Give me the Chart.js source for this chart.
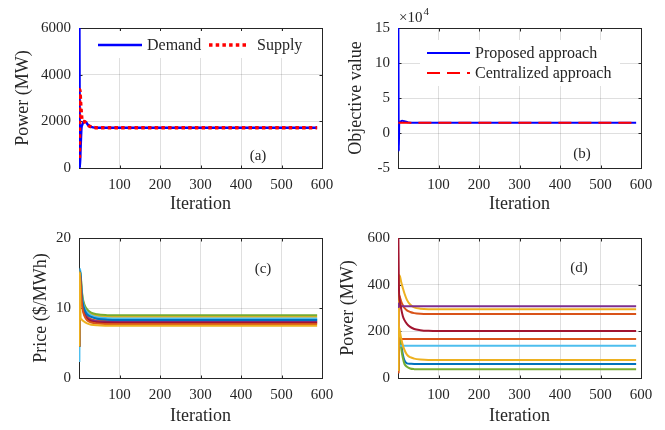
<!DOCTYPE html>
<html>
<head>
<meta charset="utf-8">
<script src="https://cdn.jsdelivr.net/npm/chart.js@4.4.0/dist/chart.umd.min.js"></script>
<style>
body { margin: 0; background: #fff; }
#wrap { position: relative; width: 665px; height: 430px; overflow: hidden; }
canvas { position: absolute; }
</style>
</head>
<body>
<div id="wrap">
<canvas id="chartA" width="345" height="215" style="left:0;top:0;width:345px;height:215px"></canvas>
<canvas id="chartB" width="345" height="215" style="left:320px;top:0;width:345px;height:215px"></canvas>
<canvas id="chartC" width="345" height="215" style="left:0;top:215px;width:345px;height:215px"></canvas>
<canvas id="chartD" width="345" height="215" style="left:320px;top:215px;width:345px;height:215px"></canvas>
</div>
<script>
// (a) demand / supply balance
const iterA = [1, 2, 4, 6, 8, 12, 16, 22, 30, 40, 588];
const demandMW = [6000, 0, 900, 1700, 1850, 1980, 1985, 1850, 1760, 1730, 1727];
const supplyMW = [430, 3350, 2800, 2300, 2000, 1990, 1960, 1840, 1760, 1730, 1727];

// (b) objective value
const iterB = [1, 2, 3, 6, 10, 16, 25, 40, 588];
const proposedObj = [150000, -26000, 14000, 16500, 17500, 16800, 15200, 14500, 14500];
const centralIter = [1, 588];
const centralObj = [14500, 14500];

// (c) prices of each agent
const iterC = [1, 2, 4, 6, 9, 14, 20, 30, 45, 70, 100, 588];
const priceBlue1 = [4.5, 15.3, 14.6, 12.6, 10.9, 9.8, 9.2, 8.8, 8.5, 8.38, 8.35, 8.35];
const priceOrange1 = [4.5, 15.2, 14.4, 12.2, 10.5, 9.4, 8.8, 8.4, 8.2, 8.12, 8.1, 8.1];
const priceYellow1 = [4.5, 15.2, 14.8, 13.0, 11.3, 10.2, 9.6, 9.15, 8.9, 8.78, 8.75, 8.75];
const pricePurple = [4.5, 15.0, 14.2, 12.0, 10.3, 9.2, 8.6, 8.25, 8.08, 8.02, 8.0, 8.0];
const priceGreen = [4.5, 15.1, 14.9, 13.2, 11.5, 10.4, 9.8, 9.35, 9.1, 8.98, 8.95, 8.95];
const priceLightBlue = [2.3, 15.6, 15.0, 12.9, 11.1, 10.0, 9.4, 8.95, 8.68, 8.55, 8.5, 8.5];
const priceDarkRed = [4.5, 15.0, 14.0, 11.8, 10.1, 9.0, 8.45, 8.12, 7.97, 7.92, 7.9, 7.9];
const priceBlue2 = [4.5, 15.3, 14.5, 12.4, 10.8, 9.7, 9.1, 8.72, 8.45, 8.33, 8.3, 8.3];
const priceOrange2 = [4.5, 15.0, 13.8, 11.5, 9.8, 8.8, 8.25, 7.92, 7.77, 7.72, 7.7, 7.7];
const priceYellow2 = [4.5, 15.2, 8.6, 8.4, 8.2, 8.0, 7.8, 7.62, 7.52, 7.47, 7.45, 7.45];

// (d) power of each agent
const iterD = [1, 2, 3, 5, 8, 12, 16, 22, 30, 40, 55, 75, 100, 588];
const powBlue = [30, 150, 160, 155, 141, 100, 75, 63, 61, 60, 60, 60, 60, 60];
const powOrange1 = [20, 300, 355, 345, 328, 312, 300, 290, 283, 278, 275, 274, 274, 274];
const powYellow1 = [30, 400, 440, 435, 410, 385, 362, 335, 315, 303, 297, 295, 295, 295];
const powPurple = [300, 320, 310, 308, 308, 308, 308, 308, 308, 308, 308, 308, 308, 308];
const powGreen = [30, 190, 205, 175, 127, 85, 60, 48, 41, 38, 37, 37, 37, 37];
const powLightBlue = [140, 139, 138, 138, 138, 138, 138, 138, 138, 138, 138, 138, 138, 138];
const powDarkRed = [600, 420, 350, 325, 295, 265, 248, 232, 219, 210, 205, 202, 201, 201];
const powOrange2 = [20, 170, 167, 167, 167, 167, 167, 167, 167, 167, 167, 167, 167, 167];
const powYellow2 = [30, 200, 215, 195, 168, 140, 120, 100, 89, 83, 79, 77, 77, 77];

// matlab colour order
const C = {
    blue: '#0072BD', orange: '#D95319', yellow: '#EDB120', purple: '#7E2F8E',
    green: '#77AC30', lightBlue: '#4DBEEE', darkRed: '#A2142F'
};
const INK = '#262626';

Chart.defaults.font.family = '"Liberation Serif", "Times New Roman", serif';
Chart.defaults.color = INK;

function pts(xs, ys) {
    return xs.map((x, i) => ({ x: x, y: ys[i] }));
}

// later series go on top, like matlab
let drawOrder = 0;
function line(label, xs, ys, color, extra) {
    drawOrder -= 1;
    return Object.assign({
        label: label, data: pts(xs, ys), borderColor: color, backgroundColor: color,
        borderWidth: 2, pointRadius: 0, fill: false, order: drawOrder
    }, extra || {});
}

// frame + inside ticks under the data, legend and tag over it
const deco = {
    id: 'deco',
    beforeDatasetsDraw(chart) {
        const { ctx, chartArea: a, scales } = chart;
        ctx.save();
        ctx.strokeStyle = INK;
        ctx.lineWidth = 1;
        const L = Math.round(a.left) + 0.5, R = Math.round(a.right) + 0.5;
        const T = Math.round(a.top) + 0.5, B = Math.round(a.bottom) + 0.5;
        ctx.strokeRect(L, T, R - L, B - T);
        ctx.beginPath();
        scales.x.ticks.forEach(t => {
            const px = Math.round(scales.x.getPixelForValue(t.value)) + 0.5;
            ctx.moveTo(px, B); ctx.lineTo(px, B - 3);
            ctx.moveTo(px, T); ctx.lineTo(px, T + 3);
        });
        scales.y.ticks.forEach(t => {
            const py = Math.round(scales.y.getPixelForValue(t.value)) + 0.5;
            ctx.moveTo(L, py); ctx.lineTo(L + 3, py);
            ctx.moveTo(R, py); ctx.lineTo(R - 3, py);
        });
        ctx.stroke();
        ctx.restore();
    },
    afterDatasetsDraw(chart, args, o) {
        const ctx = chart.ctx;
        ctx.save();
        if (o.legend) {
            const lg = o.legend;
            ctx.fillStyle = '#fff';
            ctx.fillRect(lg.box[0], lg.box[1], lg.box[2], lg.box[3]);
            ctx.font = '16px "Liberation Serif"';
            ctx.textBaseline = 'middle';
            lg.items.forEach((it, i) => {
                const ds = chart.data.datasets[i];
                ctx.strokeStyle = ds.borderColor;
                ctx.lineWidth = ds.borderWidth;
                ctx.setLineDash(ds.borderDash || []);
                ctx.beginPath();
                ctx.moveTo(it.x0, it.y); ctx.lineTo(it.x1, it.y);
                ctx.stroke();
                ctx.setLineDash([]);
                ctx.fillStyle = INK;
                ctx.fillText(ds.label, it.tx, it.y + 1);
            });
        }
        if (o.tag) {
            ctx.fillStyle = INK;
            ctx.font = '15px "Liberation Serif"';
            ctx.textAlign = 'center';
            ctx.textBaseline = 'middle';
            ctx.fillText(o.tag[0], o.tag[1], o.tag[2]);
        }
        if (o.exponent) {
            ctx.fillStyle = INK;
            ctx.textAlign = 'left';
            ctx.textBaseline = 'alphabetic';
            ctx.font = '15px "Liberation Serif"';
            ctx.fillText('\u00d710', o.exponent[0], o.exponent[1]);
            const w = ctx.measureText('\u00d710').width;
            ctx.font = '11px "Liberation Serif"';
            ctx.fillText('4', o.exponent[0] + w + 1, o.exponent[1] - 7);
        }
        ctx.restore();
    }
};

function panelOptions(o) {
    const grid = { color: 'rgba(38,38,38,0.15)', lineWidth: 1, drawTicks: false };
    return {
        responsive: false,
        animation: false,
        devicePixelRatio: 1,
        layout: { autoPadding: false, padding: { top: o.top, right: o.right, left: 0, bottom: 0 } },
        plugins: { legend: { display: false }, tooltip: { enabled: false }, deco: o.deco },
        elements: { line: { tension: 0, cubicInterpolationMode: 'monotone', borderCapStyle: 'butt' } },
        scales: {
            x: {
                type: 'linear', min: 0, max: 600,
                afterFit: s => { s.height = o.xh; },
                grid: grid, border: { display: false },
                ticks: {
                    stepSize: 100, padding: 8, autoSkip: false, maxRotation: 0,
                    font: { size: 15 }, color: INK,
                    callback: v => (v === 0 ? '' : v)
                },
                title: { display: true, text: 'Iteration', color: INK, font: { size: 18 }, padding: { top: 0, bottom: o.xtpad } }
            },
            y: {
                type: 'linear', min: o.ymin, max: o.ymax,
                afterFit: s => { s.width = o.yw; },
                grid: grid, border: { display: false },
                ticks: {
                    stepSize: o.ystep, padding: 8, autoSkip: false,
                    font: { size: 15 }, color: INK,
                    callback: o.yfmt || (v => v)
                },
                title: { display: true, text: o.ytitle, color: INK, font: { size: 18 }, padding: { top: o.ytpad, bottom: 0 } }
            }
        }
    };
}

new Chart(document.getElementById('chartA'), {
    type: 'line',
    data: {
        datasets: [
            line('Demand', iterA, demandMW, '#0000FF', { borderWidth: 2.5 }),
            line('Supply', iterA, supplyMW, '#FF0000', { borderWidth: 3.5, borderDash: [3.5, 3.2] })
        ]
    },
    options: panelOptions({
        top: 28, right: 23, yw: 79, xh: 47, xtpad: 0, ytpad: 12,
        ymin: 0, ymax: 6000, ystep: 2000, ytitle: 'Power (MW)',
        deco: {
            tag: ['(a)', 258, 156],
            legend: {
                box: [92, 31, 220, 27],
                items: [{ x0: 98, x1: 142, tx: 147, y: 45 }, { x0: 209, x1: 248, tx: 257, y: 45 }]
            }
        }
    }),
    plugins: [deco]
});

new Chart(document.getElementById('chartB'), {
    type: 'line',
    data: {
        datasets: [
            line('Proposed approach', iterB, proposedObj, '#0000FF'),
            line('Centralized approach', centralIter, centralObj, '#FF0000', { borderDash: [13, 7] })
        ]
    },
    options: panelOptions({
        top: 28, right: 24, yw: 78, xh: 47, xtpad: 0, ytpad: 25,
        ymin: -50000, ymax: 150000, ystep: 50000, ytitle: 'Objective value',
        yfmt: v => v / 10000,
        deco: {
            tag: ['(b)', 262, 154],
            exponent: [79, 22],
            legend: {
                box: [100, 40, 200, 46],
                items: [{ x0: 107, x1: 150, tx: 155, y: 53 }, { x0: 107, x1: 150, tx: 155, y: 73 }]
            }
        }
    }),
    plugins: [deco]
});

new Chart(document.getElementById('chartC'), {
    type: 'line',
    data: {
        datasets: [
            line('1', iterC, priceBlue1, C.blue),
            line('2', iterC, priceOrange1, C.orange),
            line('3', iterC, priceYellow1, C.yellow),
            line('4', iterC, pricePurple, C.purple),
            line('5', iterC, priceGreen, C.green),
            line('6', iterC, priceLightBlue, C.lightBlue),
            line('7', iterC, priceDarkRed, C.darkRed),
            line('8', iterC, priceBlue2, C.blue),
            line('9', iterC, priceOrange2, C.orange),
            line('10', iterC, priceYellow2, C.yellow)
        ]
    },
    options: panelOptions({
        top: 23, right: 23, yw: 79, xh: 52, xtpad: 3, ytpad: 30,
        ymin: 0, ymax: 20, ystep: 10, ytitle: 'Price ($/MWh)',
        deco: { tag: ['(c)', 263, 54] }
    }),
    plugins: [deco]
});

new Chart(document.getElementById('chartD'), {
    type: 'line',
    data: {
        datasets: [
            line('1', iterD, powBlue, C.blue),
            line('2', iterD, powOrange1, C.orange),
            line('3', iterD, powYellow1, C.yellow),
            line('4', iterD, powPurple, C.purple),
            line('5', iterD, powGreen, C.green),
            line('6', iterD, powLightBlue, C.lightBlue),
            line('7', iterD, powDarkRed, C.darkRed),
            line('8', iterD, powOrange2, C.orange),
            line('9', iterD, powYellow2, C.yellow)
        ]
    },
    options: panelOptions({
        top: 23, right: 24, yw: 78, xh: 52, xtpad: 3, ytpad: 17,
        ymin: 0, ymax: 600, ystep: 200, ytitle: 'Power (MW)',
        deco: { tag: ['(d)', 259, 53] }
    }),
    plugins: [deco]
});
</script>
</body>
</html>
